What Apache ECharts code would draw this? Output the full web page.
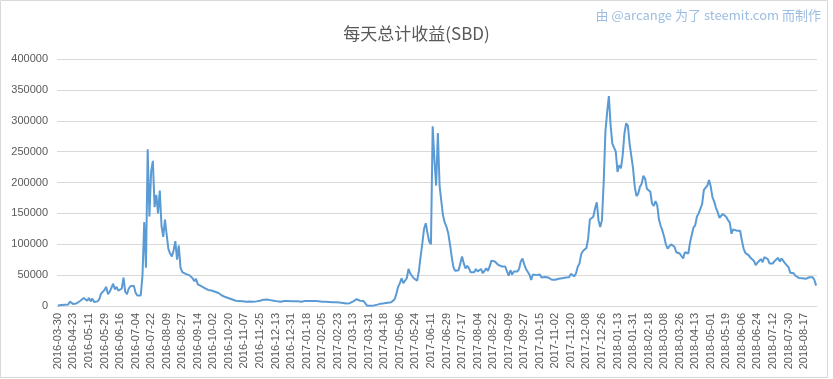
<!DOCTYPE html>
<html>
<head>
<meta charset="utf-8">
<script src="https://cdn.jsdelivr.net/npm/echarts@6/dist/echarts.min.js"></script>
<style>
html,body{margin:0;padding:0;background:#fff;}
#chart{width:833px;height:379px;}
</style>
</head>
<body>
<div id="chart"></div>
<script>
const titleText = '每天总计收益(SBD)';
const creditText = '由 @arcange 为了 steemit.com 而制作';

const tickLabels = [
  '2016-03-30','2016-04-23','2016-05-11','2016-05-29','2016-06-16','2016-07-04','2016-07-22','2016-08-09',
  '2016-08-27','2016-09-14','2016-10-02','2016-10-20','2016-11-07','2016-11-25','2016-12-13','2016-12-31',
  '2017-01-18','2017-02-05','2017-02-23','2017-03-13','2017-03-31','2017-04-18','2017-05-06','2017-05-24',
  '2017-06-11','2017-06-29','2017-07-17','2017-08-04','2017-08-22','2017-09-09','2017-09-27','2017-10-15',
  '2017-11-02','2017-11-20','2017-12-08','2017-12-26','2018-01-13','2018-01-31','2018-02-18','2018-03-08',
  '2018-03-26','2018-04-13','2018-05-01','2018-05-19','2018-06-06','2018-06-24','2018-07-12','2018-07-30',
  '2018-08-17'
];

// daily total payout (SBD), one sample every 2 days
const payouts = [
  1000,1000,1500,1500,2000,2000,2500,7000,10000,3000,
  4000,4500,5500,8500,11000,13000,11000,8500,13000,7500,
  12000,6500,9500,7500,11000,20000,20000,26000,31000,19000,
  23000,26000,36000,27000,31000,25000,28000,28000,46000,23000,
  19000,28000,32000,31000,33000,21500,17000,15000,17000,50000,
  136000,62000,254000,145000,218000,235000,160000,180000,150000,187000,
  130000,112000,140000,115000,92000,85000,80000,90000,105000,75000,
  98000,62000,55000,54000,52000,50000,50000,48000,45000,40000,
  44000,35000,33000,32000,30000,29000,27000,26000,25000,25000,
  24000,23000,22000,21000,19000,17000,16000,14500,13500,12500,
  11500,10500,9500,8500,8000,8000,7500,7500,7500,7000,
  7000,7200,7000,6800,7000,7500,8000,8500,9000,10000,
  10500,10500,10000,9500,9000,8500,8000,7500,7000,7000,
  7500,8000,7500,8000,8500,7500,7000,7500,8000,7500,
  7000,7000,7500,8000,8500,8000,8500,8000,8500,8000,
  7500,7500,7500,7000,7000,7000,7000,6500,6500,6000,
  6000,6000,5500,5500,5000,5000,4500,4000,4000,4500,
  6000,7500,9000,11000,9500,8500,9000,8000,7000,500,
  500,500,800,1000,1600,2200,2700,3800,3800,4300,
  4300,5400,5400,6000,7000,11000,20000,31000,37000,45000,
  37000,39000,45000,60000,53000,50000,45000,43000,41000,56000,
  80000,101000,125000,134000,118000,104000,100000,291000,237000,195000,
  280000,195000,170000,146000,135000,128000,118000,100000,80000,63000,
  57000,56000,58000,61000,80000,69000,61000,65000,61000,54500,
  57000,54500,60000,56000,58000,60000,53000,57000,61000,57000,
  64000,73500,76000,72000,73500,66500,69000,64000,62000,64000,
  56000,49000,58000,51000,56000,53000,56000,60000,72000,77000,
  67500,60000,57000,51000,42000,51000,52000,50000,47000,51000,
  46000,47000,47000,45000,46000,44000,42500,45000,42500,45000,
  44000,46000,45000,42000,46000,44000,46500,52000,54500,48000,
  53000,63500,69000,84000,89000,91000,94000,109000,140000,142000,
  144500,158000,168000,139000,128000,139000,200000,282000,314000,340000,
  293000,263000,260000,250000,217000,228000,223000,244000,279000,296000,
  292000,263000,260000,223000,193000,178000,182000,193000,198000,211000,
  206000,190000,191000,185000,166000,162000,170000,163000,140000,130000,
  122000,112000,100000,93000,95000,100000,103000,96000,87000,84000,
  85000,81000,77000,87000,87000,85000,103000,115000,127000,131000,
  145000,150000,153000,165000,188000,190000,195000,204000,193000,176000,
  169000,159000,152000,143000,145000,149000,147000,144000,139000,135000,
  117000,124000,125000,122000,123000,122000,106000,93000,86000,84000,
  82000,78000,76000,73000,66000,70000,72000,76000,71000,79000,
  77000,76000,69000,72000,69000,73000,73000,78000,72000,77000,
  74000,69000,67500,63000,54000,56000,53000,49000,46000,45500,
  46500,45000,45500,44000,45000,46500,47000,46500,42000,33000
];

const yMin = 0, yMax = 400000, yStep = 50000;

function addDays(s, n) {
  const d = new Date(s + 'T00:00:00Z');
  d.setUTCDate(d.getUTCDate() + n);
  return d.toISOString().slice(0, 10);
}
const categories = [];
for (let k = 0; k < tickLabels.length; k++) {
  const count = (k < tickLabels.length - 1) ? 9 : payouts.length - 9 * (tickLabels.length - 1);
  for (let j = 0; j < count; j++) categories.push(j === 0 ? tickLabels[k] : addDays(tickLabels[k], 2 * j));
}

const chart = echarts.init(document.getElementById('chart'), null, {renderer: 'canvas'});
chart.setOption({
  backgroundColor: '#ffffff',
  animation: false,
  title: {
    text: titleText,
    left: 'center',
    top: 20,
    textStyle: {fontFamily: 'Noto Sans CJK SC', fontSize: 17, fontWeight: 'normal', color: '#595959'}
  },
  graphic: [
    {type: 'rect', silent: true, shape: {x: 0.5, y: 0.5, width: 827, height: 377},
     style: {fill: 'none', stroke: '#d9d9d9', lineWidth: 1}},
    {type: 'text', right: 12, top: 9, silent: true,
     style: {text: creditText, fill: '#9dbde0', font: '13px "Noto Sans CJK SC"'}}
  ],
  grid: {left: 57, right: 16, top: 59, bottom: 73, containLabel: false},
  xAxis: {
    type: 'category',
    data: categories,
    boundaryGap: true,
    axisTick: {show: false},
    axisLine: {lineStyle: {color: '#d9d9d9', width: 1}},
    axisLabel: {interval: 8, rotate: 90, margin: 7, fontSize: 11, color: '#595959', fontFamily: 'Liberation Sans'},
    splitLine: {show: false}
  },
  yAxis: {
    type: 'value',
    min: yMin, max: yMax, interval: yStep,
    axisLine: {show: false},
    axisTick: {show: false},
    axisLabel: {margin: 9, fontSize: 11, color: '#595959', fontFamily: 'Liberation Sans',
                formatter: function (v) { return String(v); }},
    splitLine: {lineStyle: {color: '#d9d9d9', width: 1}}
  },
  series: [{
    type: 'line',
    data: payouts,
    showSymbol: false,
    symbol: 'none',
    lineStyle: {color: '#5b9bd5', width: 2},
    itemStyle: {color: '#5b9bd5'}
  }]
});
</script>
</body>
</html>
